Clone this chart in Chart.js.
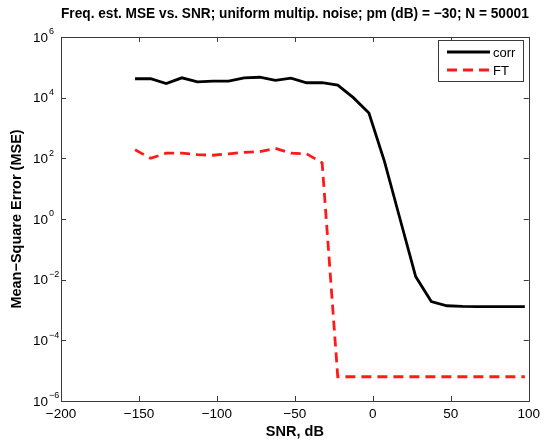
<!DOCTYPE html>
<html>
<head>
<meta charset="utf-8">
<script src="https://cdn.jsdelivr.net/npm/chart.js@4/dist/chart.umd.min.js"></script>
<style>
  html, body { margin: 0; padding: 0; background: #fff; }
  #wrap { width: 545px; height: 441px; position: relative; }
</style>
</head>
<body>
<div id="wrap"><canvas id="mse-chart"></canvas></div>
<script>
// values
const snrDb = [-152.5, -142.5, -132.5, -122.5, -112.5, -102.5, -92.5, -82.5, -72.5, -62.5,
               -52.5, -42.5, -32.5, -22.5, -12.5, -2.5, 7.5, 17.5, 27.5, 37.5,
               47.5, 57.5, 67.5, 77.5, 87.5, 97.5];
const corrMse = [4.2e4, 4.2e4, 2.9e4, 4.5e4, 3.3e4, 3.5e4, 3.5e4, 4.5e4, 4.7e4, 3.7e4,
                 4.4e4, 3.1e4, 3.1e4, 2.6e4, 1.0e4, 3.1e3, 78, 0.98, 1.26e-2, 1.9e-3,
                 1.38e-3, 1.32e-3, 1.3e-3, 1.3e-3, 1.3e-3, 1.3e-3];
const ftMse = [190, 100, 148, 148, 132, 126, 141, 158, 166, 214,
               148, 141, 71, 6.3e-6, 6.3e-6, 6.3e-6, 6.3e-6, 6.3e-6, 6.3e-6, 6.3e-6,
               6.3e-6, 6.3e-6, 6.3e-6, 6.3e-6, 6.3e-6, 6.3e-6];

const xTickValues = [-200, -150, -100, -50, 0, 50, 100];
const yTickValues = [1e-6, 1e-4, 1e-2, 1, 1e2, 1e4, 1e6];
const yTickExp = ['\u22126', '\u22124', '\u22122', '0', '2', '4', '6'];

const FONT = "'Liberation Sans', Arial, Helvetica, sans-serif";

// MATLAB style box: frame, inward ticks on all sides, 10^n labels
const framePlugin = {
    id: 'matlabFrame',
    afterDatasetsDraw(chart) {
        const { ctx, chartArea: a, scales } = chart;
        const xs = scales.x, ys = scales.y;
        ctx.save();
        ctx.strokeStyle = '#3a3a3a';
        ctx.lineWidth = 1;
        ctx.beginPath();
        xTickValues.forEach(v => {
            const px = Math.round(xs.getPixelForValue(v)) + 0.5;
            ctx.moveTo(px, a.bottom); ctx.lineTo(px, a.bottom - 5);
            ctx.moveTo(px, a.top); ctx.lineTo(px, a.top + 5);
        });
        yTickValues.forEach(v => {
            const py = Math.round(ys.getPixelForValue(v)) + 0.5;
            ctx.moveTo(a.left, py); ctx.lineTo(a.left + 5, py);
            ctx.moveTo(a.right, py); ctx.lineTo(a.right - 5, py);
        });
        ctx.stroke();
        ctx.strokeRect(Math.round(a.left) + 0.5, Math.round(a.top) + 0.5,
                       Math.round(a.right - a.left), Math.round(a.bottom - a.top));

        ctx.fillStyle = '#000';
        ctx.textBaseline = 'middle';
        yTickValues.forEach((v, i) => {
            const py = ys.getPixelForValue(v);
            ctx.font = '13.5px ' + FONT;
            ctx.textAlign = 'right';
            ctx.fillText('10', a.left - 13, py + 1);
            ctx.font = '9px ' + FONT;
            ctx.textAlign = 'left';
            ctx.fillText(yTickExp[i], a.left - 12, py - 5);
        });

        // legend
        const lx = 438, ly = 40, lw = 85, lh = 41;
        ctx.fillStyle = '#fff';
        ctx.fillRect(lx, ly, lw, lh);
        ctx.strokeStyle = '#3a3a3a';
        ctx.strokeRect(lx + 0.5, ly + 0.5, lw, lh);
        chart.data.datasets.forEach((ds, i) => {
            const y = ly + 12 + i * 18;
            ctx.strokeStyle = ds.borderColor;
            ctx.lineWidth = ds.borderWidth;
            ctx.setLineDash(ds.borderDash || []);
            ctx.beginPath();
            ctx.moveTo(lx + 9, y); ctx.lineTo(lx + 52, y);
            ctx.stroke();
            ctx.setLineDash([]);
            ctx.fillStyle = '#000';
            ctx.font = '13px ' + FONT;
            ctx.textAlign = 'left';
            ctx.fillText(ds.label, lx + 55, y + 1);
        });
        ctx.restore();
    }
};

const ctx = document.getElementById('mse-chart').getContext('2d');
new Chart(ctx, {
    type: 'line',
    data: {
        datasets: [{
            label: 'corr',
            data: snrDb.map((s, i) => ({ x: s, y: corrMse[i] })),
            borderColor: '#000000',
            borderWidth: 2.8,
            pointRadius: 0,
            tension: 0,
            fill: false
        }, {
            label: 'FT',
            data: snrDb.map((s, i) => ({ x: s, y: ftMse[i] })),
            borderColor: '#ff1a1a',
            borderWidth: 2.8,
            borderDash: [10, 6],
            pointRadius: 0,
            tension: 0,
            fill: false
        }]
    },
    options: {
        responsive: true,
        maintainAspectRatio: false,
        animation: false,
        layout: { padding: { left: 0, right: 14, top: 0, bottom: 0 } },
        scales: {
            x: {
                type: 'linear',
                min: -200,
                max: 100,
                afterBuildTicks: s => { s.ticks = xTickValues.map(v => ({ value: v })); },
                afterFit: s => { s.height = 40; },
                grid: { display: false, drawTicks: false },
                border: { display: false },
                ticks: {
                    padding: 5,
                    color: '#000',
                    font: { family: FONT, size: 13.5 },
                    callback: v => String(v).replace('-', '\u2212')
                },
                title: {
                    display: true,
                    text: 'SNR, dB',
                    color: '#000',
                    font: { family: FONT, size: 14.5, weight: 'bold' },
                    padding: { top: 0, bottom: 0 }
                }
            },
            y: {
                type: 'logarithmic',
                min: 1e-6,
                max: 1e6,
                afterFit: s => { s.width = 61; },
                grid: { display: false, drawTicks: false },
                border: { display: false },
                ticks: { display: false },
                title: {
                    display: true,
                    text: 'Mean\u2212Square Error (MSE)',
                    color: '#000',
                    font: { family: FONT, size: 14.5, weight: 'bold' },
                    padding: { top: 8, bottom: 0 }
                }
            }
        },
        plugins: {
            legend: { display: false },
            tooltip: { enabled: false },
            title: {
                display: true,
                fullSize: false,
                text: 'Freq. est. MSE vs. SNR; uniform multip. noise; pm (dB) = \u221230; N = 50001',
                color: '#000',
                font: { family: FONT, size: 13.8, weight: 'bold' },
                padding: { top: 6, bottom: 14.4 }
            }
        }
    },
    plugins: [framePlugin]
});
</script>
</body>
</html>
